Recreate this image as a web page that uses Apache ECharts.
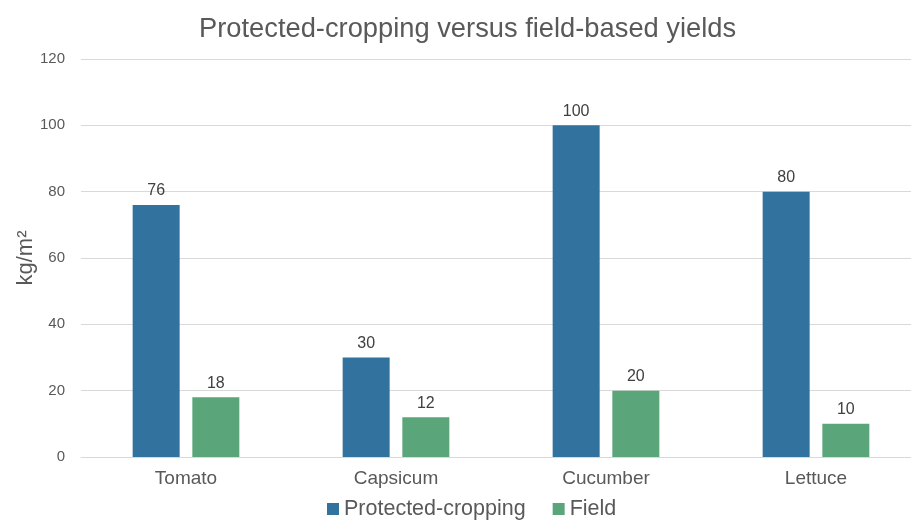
<!DOCTYPE html>
<html>
<head>
<meta charset="utf-8">
<script src="https://cdn.jsdelivr.net/npm/echarts@6/dist/echarts.min.js"></script>
<style>html,body{margin:0;padding:0;background:#fff;overflow:hidden}#c{width:921px;height:525px}</style>
</head>
<body>
<div id="c"></div>
<script>
var categories = ['Tomato', 'Capsicum', 'Cucumber', 'Lettuce'];
var protectedValues = [76, 30, 100, 80];
var fieldValues = [18, 12, 20, 10];
var seriesNames = ['Protected-cropping', 'Field'];

var chart = echarts.init(document.getElementById('c'));
var font = 'Liberation Sans, Arial, sans-serif';
chart.setOption({
  animation: false,
  title: {
    text: 'Protected-cropping versus field-based yields',
    left: 194, top: 11,
    textStyle: { fontFamily: font, fontSize: 27.3, fontWeight: 'normal', color: '#595959' }
  },
  legend: {
    bottom: 0, left: 322,
    itemWidth: 12, itemHeight: 12, itemGap: 27,
    icon: 'rect',
    textStyle: { fontFamily: font, fontSize: 21.5, color: '#595959' },
    data: seriesNames
  },
  grid: { left: 81, top: 59, right: 0, height: 398 },
  xAxis: {
    type: 'category', data: categories,
    axisLine: { lineStyle: { color: '#d9d9d9' } },
    axisTick: { show: false },
    axisLabel: { fontFamily: font, fontSize: 19, color: '#595959', margin: 12 }
  },
  yAxis: {
    type: 'value', min: 0, max: 120, interval: 20,
    name: 'kg/m²', nameLocation: 'middle', nameGap: 44, nameMoveOverlap: false,
    nameTextStyle: { fontFamily: font, fontSize: 22, color: '#595959' },
    axisLabel: { fontFamily: font, fontSize: 15, color: '#595959', margin: 16 },
    splitLine: { lineStyle: { color: '#d9d9d9' } },
    axisLine: { show: false }, axisTick: { show: false }
  },
  series: [
    {
      name: seriesNames[0], type: 'bar', data: protectedValues,
      barWidth: 47, barGap: '27%',
      itemStyle: { color: '#31739e' },
      label: { show: true, position: 'top', distance: 6, fontFamily: font, fontSize: 16, color: '#404040' }
    },
    {
      name: seriesNames[1], type: 'bar', data: fieldValues,
      barWidth: 47,
      itemStyle: { color: '#5aa67a' },
      label: { show: true, position: 'top', distance: 6, fontFamily: font, fontSize: 16, color: '#404040' }
    }
  ]
});
</script>
</body>
</html>
